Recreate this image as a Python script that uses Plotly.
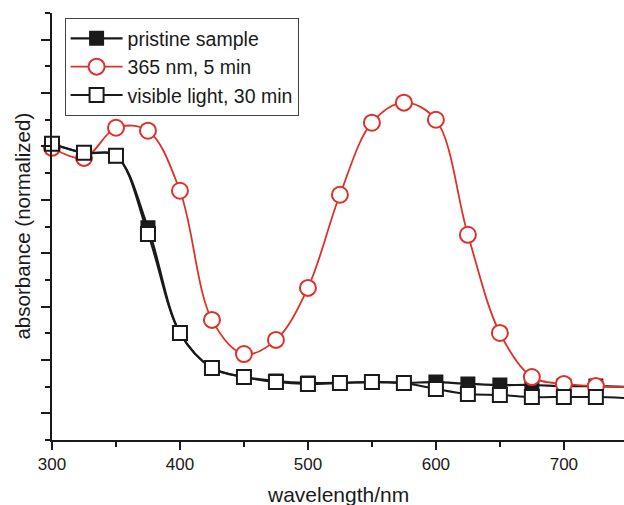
import plotly.graph_objects as go

wavelength = [300, 325, 350, 375, 400, 425, 450, 475, 500, 525, 550, 575,
              600, 625, 650, 675, 700, 725, 750]

pristine = [1.010, 0.976, 0.965, 0.695, 0.301, 0.170, 0.136, 0.121, 0.114, 0.114,
            0.117, 0.114, 0.117, 0.110, 0.106, 0.106, 0.102, 0.102, 0.099]
uv_365 = [0.995, 0.957, 1.070, 1.059, 0.834, 0.350, 0.222, 0.275, 0.470, 0.819,
          1.089, 1.164, 1.100, 0.669, 0.301, 0.136, 0.110, 0.102, 0.099]
visible = [1.010, 0.976, 0.965, 0.672, 0.301, 0.170, 0.136, 0.117, 0.110, 0.114,
           0.117, 0.114, 0.091, 0.072, 0.069, 0.061, 0.061, 0.061, 0.057]

names = ["pristine sample", "365 nm, 5 min", "visible light, 30 min"]

FONT = "Liberation Sans, Arial, sans-serif"
INK = "#1a1a1a"
RED = "#e0302a"

fig = go.Figure()
fig.add_trace(go.Scatter(
    x=wavelength, y=pristine, name=names[0], mode="lines+markers",
    line=dict(color=INK, width=2.2, shape="spline", smoothing=1),
    marker=dict(symbol="square", size=13, color=INK, line=dict(color=INK, width=2)),
    cliponaxis=False,
))
fig.add_trace(go.Scatter(
    x=wavelength, y=uv_365, name=names[1], mode="lines+markers",
    line=dict(color=RED, width=1.8, shape="spline", smoothing=1),
    marker=dict(symbol="circle", size=16, color="white", line=dict(color=RED, width=2)),
    cliponaxis=False,
))
fig.add_trace(go.Scatter(
    x=wavelength, y=visible, name=names[2], mode="lines+markers",
    line=dict(color=INK, width=2, shape="spline", smoothing=1),
    marker=dict(symbol="square", size=14, color="white", line=dict(color=INK, width=2)),
    cliponaxis=False,
))

fig.update_layout(
    width=624, height=505,
    margin=dict(l=52, r=0, t=13, b=65),
    paper_bgcolor="white", plot_bgcolor="white",
    font=dict(family=FONT, size=17, color=INK),
    showlegend=True,
    legend=dict(
        x=0.022, y=0.988, xanchor="left", yanchor="top",
        bgcolor="white", bordercolor="#444", borderwidth=1,
        font=dict(family=FONT, size=19.5, color=INK),
        tracegroupgap=0, itemwidth=52,
    ),
    xaxis=dict(
        range=[300, 747], showgrid=False, zeroline=False,
        showline=True, linecolor=INK, linewidth=2,
        ticks="outside", ticklen=8, tickwidth=1.5, tickcolor=INK,
        tick0=300, dtick=100,
        tickfont=dict(family=FONT, size=17, color=INK),
        minor=dict(ticks="outside", ticklen=5, tickwidth=1.5, tickcolor=INK, dtick=50, tick0=300),
    ),
    yaxis=dict(
        range=[-0.1, 1.5], showgrid=False, zeroline=False,
        showline=True, linecolor=INK, linewidth=2,
        ticks="outside", ticklen=9, tickwidth=1.5, tickcolor=INK,
        tick0=0, dtick=0.2, showticklabels=False,
        minor=dict(ticks="outside", ticklen=5, tickwidth=1.5, tickcolor=INK, dtick=0.1, tick0=0),
    ),
    annotations=[
        dict(text="wavelength/nm", xref="paper", yref="paper", x=0.5, y=-0.1265,
             xanchor="center", yanchor="middle", showarrow=False,
             font=dict(family=FONT, size=21, color=INK)),
        dict(text="absorbance (normalized)", xref="paper", yref="paper",
             x=-0.0524, y=0.5, xanchor="center", yanchor="middle", textangle=-90,
             showarrow=False, font=dict(family=FONT, size=20.5, color=INK)),
    ],
)

fig.write_html("out.html", config={"displayModeBar": False},
               post_script="document.body.style.margin='0';")
